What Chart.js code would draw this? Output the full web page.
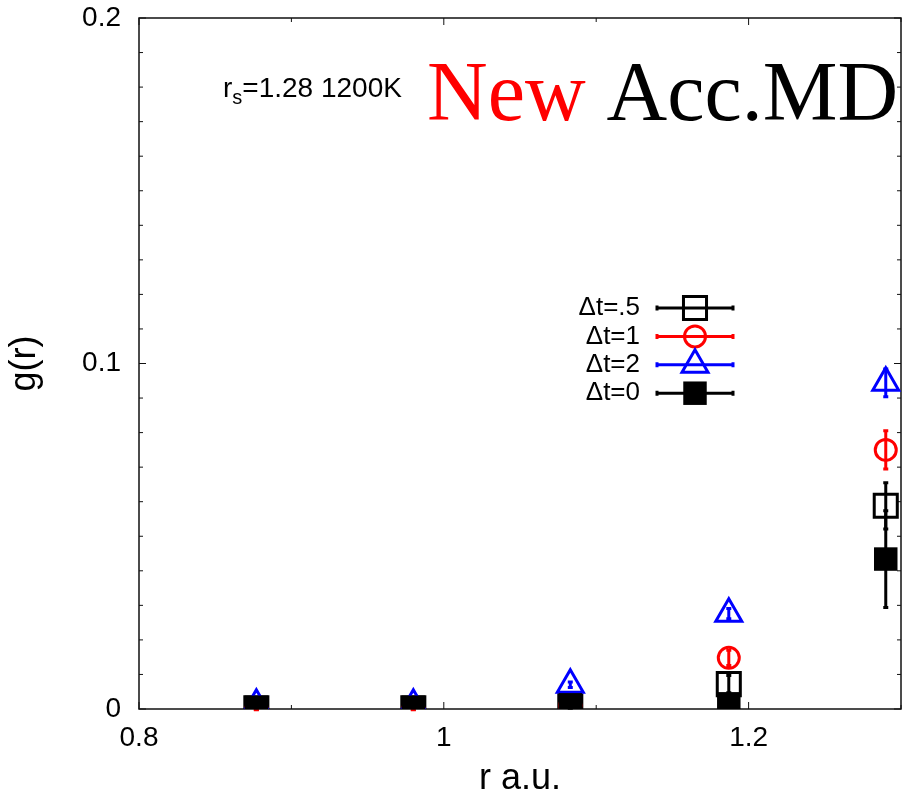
<!DOCTYPE html>
<html lang="en">
<head>
    <meta charset="UTF-8">
    <title>g(r) rs=1.28 1200K</title>
    <script src="https://cdn.jsdelivr.net/npm/chart.js"></script>
    <style>
        html, body { margin: 0; padding: 0; background: #fff; }
        #wrap { width: 903px; height: 798px; }
    </style>
</head>
<body>
<div id="wrap"><canvas id="gr-chart"></canvas></div>
<script>
    // r bins (a.u.)
    const rBins = [0.877, 0.980, 1.083, 1.187, 1.290];

    // g(r) per time step, with error bars
    const gDt05 = [0.0002, 0.0002, 0.0008, 0.0072, 0.0588];
    const errDt05 = [0.0003, 0.0003, 0.0006, 0.0025, 0.0067];
    const gDt1 = [0.0000, 0.0000, 0.0010, 0.0148, 0.0750];
    const errDt1 = [0.0002, 0.0002, 0.0005, 0.0022, 0.0055];
    const gDt2 = [0.0012, 0.0012, 0.0070, 0.0276, 0.0944];
    const errDt2 = [0.0003, 0.0003, 0.0008, 0.0015, 0.0040];
    const gDt0 = [0.0005, 0.0005, 0.0012, 0.0015, 0.0434];
    const errDt0 = [0.0003, 0.0003, 0.0006, 0.0010, 0.0140];

    const seriesLabels = ['Δt=.5', 'Δt=1', 'Δt=2', 'Δt=0'];
    const xTickLabels = ['0.8', '1', '1.2'];
    const yTickLabels = ['0', '0.1', '0.2'];

    Chart.defaults.font.family = '"Liberation Sans", Arial, sans-serif';
    Chart.defaults.color = '#000';

    function toPoints(ys) {
        return rBins.map((r, i) => ({ x: r, y: ys[i] }));
    }

    function drawMarker(ctx, style, x, y, r, color, filled) {
        ctx.save();
        ctx.strokeStyle = color;
        ctx.fillStyle = color;
        ctx.lineWidth = 3;
        ctx.beginPath();
        if (style === 'rect') {
            const s = r * Math.SQRT1_2;
            ctx.rect(x - s, y - s, 2 * s, 2 * s);
        } else if (style === 'circle') {
            ctx.arc(x, y, r, 0, Math.PI * 2);
        } else {
            ctx.moveTo(x, y - r);
            ctx.lineTo(x + r * Math.sin(Math.PI / 3), y + r / 2);
            ctx.lineTo(x - r * Math.sin(Math.PI / 3), y + r / 2);
            ctx.closePath();
        }
        if (filled) ctx.fill(); else ctx.stroke();
        ctx.restore();
    }

    // no extra room for overflowing tick labels, the layout padding decides
    function fixScale(s, prop, size) {
        s[prop] = size;
        s.paddingTop = 0;
        s.paddingBottom = 0;
        s.paddingLeft = 0;
        s.paddingRight = 0;
    }

    // frame with inward ticks on all four sides
    const framePlugin = {
        id: 'frame',
        beforeDatasetsDraw(chart) {
            const { ctx, chartArea: a, scales } = chart;
            ctx.save();
            ctx.strokeStyle = '#111';
            ctx.lineWidth = 1;
            scales.x.ticks.forEach(t => {
                const px = scales.x.getPixelForValue(t.value);
                const len = t.label ? 7 : 4;
                ctx.beginPath();
                ctx.moveTo(px, a.bottom); ctx.lineTo(px, a.bottom - len);
                ctx.moveTo(px, a.top); ctx.lineTo(px, a.top + len);
                ctx.stroke();
            });
            scales.y.ticks.forEach(t => {
                const py = scales.y.getPixelForValue(t.value);
                const len = t.label ? 7 : 4;
                ctx.beginPath();
                ctx.moveTo(a.left, py); ctx.lineTo(a.left + len, py);
                ctx.moveTo(a.right, py); ctx.lineTo(a.right - len, py);
                ctx.stroke();
            });
            ctx.lineWidth = 1.5;
            ctx.strokeRect(a.left, a.top, a.right - a.left, a.bottom - a.top);
            ctx.restore();
        }
    };

    // vertical error bars drawn right after each dataset
    const errorBarPlugin = {
        id: 'errorBars',
        afterDatasetDraw(chart, args) {
            const ds = chart.data.datasets[args.index];
            if (!ds.errors) return;
            const { ctx } = chart;
            const yScale = chart.scales.y;
            ctx.save();
            ctx.strokeStyle = ds.borderColor;
            ctx.lineWidth = 3;
            args.meta.data.forEach((el, i) => {
                const v = ds.data[i].y, e = ds.errors[i];
                const y1 = yScale.getPixelForValue(v + e);
                const y2 = yScale.getPixelForValue(v - e);
                ctx.beginPath();
                ctx.moveTo(el.x, y1); ctx.lineTo(el.x, y2);
                ctx.moveTo(el.x - 2.5, y1); ctx.lineTo(el.x + 2.5, y1);
                ctx.moveTo(el.x - 2.5, y2); ctx.lineTo(el.x + 2.5, y2);
                ctx.stroke();
            });
            ctx.restore();
        }
    };

    // legend inside the plot + title texts
    const overlayPlugin = {
        id: 'overlay',
        afterDraw(chart) {
            const { ctx, chartArea: a } = chart;
            ctx.save();

            const textX = a.left + 501;
            const x0 = a.left + 518, x1 = a.left + 594, mx = a.left + 556;
            chart.data.datasets.forEach((ds, i) => {
                const y = a.top + 290 + i * 28.4;
                ctx.font = '26px "Liberation Sans", Arial, sans-serif';
                ctx.fillStyle = '#000';
                ctx.textAlign = 'right';
                ctx.textBaseline = 'middle';
                ctx.fillText(ds.label, textX, y);
                ctx.strokeStyle = ds.borderColor;
                ctx.lineWidth = 3;
                ctx.beginPath();
                ctx.moveTo(x0, y); ctx.lineTo(x1, y);
                ctx.moveTo(x0, y - 2.5); ctx.lineTo(x0, y + 2.5);
                ctx.moveTo(x1, y - 2.5); ctx.lineTo(x1, y + 2.5);
                ctx.stroke();
                drawMarker(ctx, ds.pointStyle, mx, y, ds.pointRadius, ds.borderColor, ds.filled);
            });

            // r_s=1.28 1200K
            ctx.textAlign = 'left';
            ctx.textBaseline = 'alphabetic';
            let tx = a.left + 84;
            const ty = a.top + 79;
            ctx.font = '28px "Liberation Sans", Arial, sans-serif';
            ctx.fillText('r', tx, ty);
            tx += ctx.measureText('r').width;
            ctx.font = '20px "Liberation Sans", Arial, sans-serif';
            ctx.fillText('s', tx, ty + 7);
            tx += ctx.measureText('s').width;
            ctx.font = '28px "Liberation Sans", Arial, sans-serif';
            ctx.fillText('=1.28 1200K', tx, ty);

            // New Acc.MD
            ctx.font = '84px "Liberation Serif", "Times New Roman", serif';
            let nx = a.left + 288;
            const ny = a.top + 102;
            ctx.fillStyle = '#ff0000';
            ctx.fillText('New', nx, ny);
            nx += ctx.measureText('New ').width;
            ctx.fillStyle = '#000';
            ctx.fillText('Acc.MD', nx, ny);

            ctx.restore();
        }
    };

    const ctx = document.getElementById('gr-chart');

    const grChart = new Chart(ctx, {
        type: 'scatter',
        data: {
            datasets: [{
                label: seriesLabels[0],
                data: toPoints(gDt05),
                errors: errDt05,
                pointStyle: 'rect',
                pointRadius: 16.3,
                borderColor: '#000',
                backgroundColor: 'rgba(0,0,0,0)',
                borderWidth: 3,
                filled: false,
                order: 4
            }, {
                label: seriesLabels[1],
                data: toPoints(gDt1),
                errors: errDt1,
                pointStyle: 'circle',
                pointRadius: 10.5,
                borderColor: '#ff0000',
                backgroundColor: 'rgba(0,0,0,0)',
                borderWidth: 3,
                filled: false,
                order: 3
            }, {
                label: seriesLabels[2],
                data: toPoints(gDt2),
                errors: errDt2,
                pointStyle: 'triangle',
                pointRadius: 15,
                borderColor: '#0000ff',
                backgroundColor: 'rgba(0,0,0,0)',
                borderWidth: 3,
                filled: false,
                order: 2
            }, {
                label: seriesLabels[3],
                data: toPoints(gDt0),
                errors: errDt0,
                pointStyle: 'rect',
                pointRadius: 16.6,
                borderColor: '#000',
                backgroundColor: '#000',
                borderWidth: 0,
                filled: true,
                order: 1
            }]
        },
        options: {
            responsive: true,
            maintainAspectRatio: false,
            animation: false,
            layout: { autoPadding: false, padding: { top: 18, right: 2, left: 0, bottom: 0 } },
            plugins: {
                legend: { display: false },
                tooltip: { enabled: false }
            },
            scales: {
                x: {
                    type: 'linear',
                    min: 0.8,
                    max: 1.3,
                    afterFit: s => fixScale(s, 'height', 89),
                    grid: { display: false, drawTicks: false },
                    border: { display: false },
                    ticks: {
                        stepSize: 0.1,
                        autoSkip: false,
                        maxRotation: 0,
                        padding: 12,
                        font: { size: 28 },
                        callback: v => {
                            const k = Math.round(v * 10);
                            return k % 2 === 0 && k <= 12 ? xTickLabels[(k - 8) / 2] : '';
                        }
                    },
                    title: { display: true, text: 'r a.u.', font: { size: 36 }, padding: { top: 0, bottom: -3 } }
                },
                y: {
                    min: 0,
                    max: 0.2,
                    afterFit: s => fixScale(s, 'width', 139),
                    grid: { display: false, drawTicks: false },
                    border: { display: false },
                    ticks: {
                        stepSize: 0.01,
                        autoSkip: false,
                        padding: 18,
                        font: { size: 28 },
                        callback: v => {
                            const k = Math.round(v * 100);
                            return k % 10 === 0 ? yTickLabels[k / 10] : '';
                        }
                    },
                    title: { display: true, text: 'g(r)', font: { size: 36 }, padding: { top: 3, bottom: 0 } }
                }
            }
        },
        plugins: [framePlugin, errorBarPlugin, overlayPlugin]
    });
</script>
</body>
</html>
